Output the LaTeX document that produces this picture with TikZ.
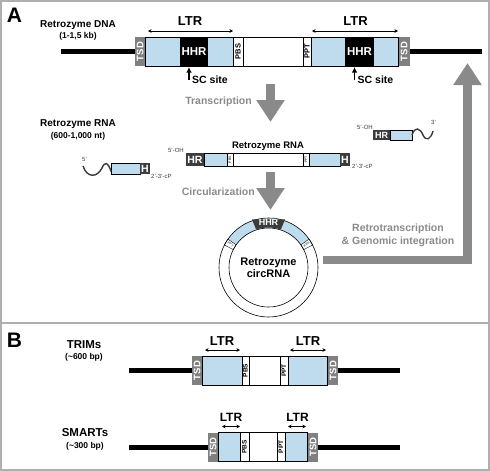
\documentclass[tikz,border=0pt]{standalone}
\usepackage{fontspec}
\setmainfont{Liberation Sans}
\usetikzlibrary{positioning,arrows.meta,calc}

\definecolor{ltrblue}{RGB}{190,220,238}
\definecolor{tsdgray}{RGB}{128,128,128}
\definecolor{hrgray}{RGB}{60,60,60}
\definecolor{arrgray}{RGB}{138,138,138}
\definecolor{framegray}{RGB}{175,175,175}
\newcommand{\fsz}[1]{\fontsize{#1}{#1}\selectfont}

\begin{document}
\begin{tikzpicture}[x=1pt,y=-1pt,
		box/.style={draw,line width=0.6pt,inner sep=0pt,outer sep=0pt},
		ltrbox/.style={box,fill=ltrblue},
		vbox/.style={box,fill=white,rotate=90,font=\bfseries\fsz{7.5}},
		tsdbox/.style={fill=tsdgray,text=white,rotate=90,inner sep=0pt,outer sep=0pt,minimum width=29pt,font=\bfseries\fsz{9.5}},
		hhrbox/.style={fill=black,text=white,inner sep=0pt,outer sep=0pt,minimum height=29pt,font=\bfseries\fsz{11.5}},
		hrbox/.style={fill=hrgray,text=white,inner sep=0pt,outer sep=0pt,font=\bfseries\fsz{10.5}},
		dna/.style={line width=5pt},
		wave/.style={draw=hrgray,line width=1.4pt},
		ltrspan/.style={{Stealth[length=3.5pt,width=3.5pt]}-{Stealth[length=3.5pt,width=3.5pt]},line width=0.5pt},
		ltrlab/.style={inner sep=0pt,font=\bfseries\fsz{13}},
		sclab/.style={inner sep=0pt,anchor=west,font=\bfseries\fsz{10.5}},
		scarrow/.style={line width=1.8pt,-{Latex[length=5.5pt,width=5.5pt]}},
		bigarrow/.style={draw=arrgray,line width=8.5pt,line join=miter,-{Triangle[length=22pt,width=27pt]}},
		steplab/.style={inner sep=0pt,text=arrgray,align=center,font=\bfseries\fsz{10.5}},
		namelab/.style={inner sep=0pt,font=\bfseries\fsz{10}},
		sizelab/.style={inner sep=0pt,font=\bfseries\fsz{8.5}},
		endlab/.style={inner sep=0pt,text=hrgray,font=\fsz{6}},
		panel/.style={inner sep=0pt,font=\bfseries\fsz{21}}]

	\useasboundingbox (0,0) rectangle (490,471);
	\draw[framegray,line width=2pt] (1,1) rectangle (489,470);
	\draw[framegray,line width=1.5pt] (1,323) -- (489,323);

	% panel A: retrozyme DNA
	\node[panel] (labA) at (14.5,15.5) {A};
	\node[namelab] (dnaName) at (78,25) {Retrozyme DNA};
	\node[sizelab] (dnaSize) at (78,36) {(1-1,5 kb)};

	\node[tsdbox,minimum height=10pt] (tsdDa) at (140,51.5) {TSD};
	\node[ltrbox,minimum width=88pt,minimum height=29pt] (ltrDa) at (189,51.5) {};
	\node[hhrbox,minimum width=28pt] (hhrDa) at (194,51.5) {HHR};
	\node[vbox,minimum width=29pt,minimum height=10pt] (pbsD) at (238,51.5) {PBS};
	\node[box,minimum width=60pt,minimum height=29pt] (midD) at (273,51.5) {};
	\node[vbox,minimum width=29pt,minimum height=8pt] (pptD) at (307,51.5) {PPT};
	\node[ltrbox,minimum width=87pt,minimum height=29pt] (ltrDb) at (354.5,51.5) {};
	\node[hhrbox,minimum width=29pt] (hhrDb) at (359.5,51.5) {HHR};
	\node[tsdbox,minimum height=11pt] (tsdDb) at (404,51.5) {TSD};
	\coordinate (dnaA0) at (61,51.5);
	\coordinate (dnaA1) at (482,51.5);
	\draw[dna] (dnaA0) -- (tsdDa);
	\draw[dna] (tsdDb) -- (dnaA1);

	\draw[ltrspan] ($(ltrDa.north west)+(3,-6)$) -- ($(ltrDa.north east)+(0,-6)$);
	\node[ltrlab] (ltrLabA) at ($(ltrDa.north)+(1,-16)$) {LTR};
	\draw[ltrspan] ($(ltrDb.north west)+(1,-6)$) -- ($(ltrDb.north east)+(0,-6)$);
	\node[ltrlab] (ltrLabB) at ($(ltrDb.north)+(1,-16)$) {LTR};

	\draw[scarrow] ($(hhrDa.south)+(-5,14)$) -- ($(hhrDa.south)+(-5,1)$);
	\node[sclab] (scA) at ($(hhrDa.south)+(-2,14)$) {SC site};
	\draw[scarrow] ($(hhrDb.south)+(-5,14)$) -- ($(hhrDb.south)+(-5,1)$);
	\node[sclab] (scB) at ($(hhrDb.south)+(-2,14)$) {SC site};

	% transcription
	\coordinate (trTop) at (270.5,84);
	\coordinate (trBot) at (270.5,122);
	\draw[bigarrow] (trTop) -- (trBot);
	\node[steplab,anchor=east] (trLab) at (252,102) {Transcription};

	% retrozyme RNA
	\node[namelab] (rnaName) at (78,124) {Retrozyme RNA};
	\node[sizelab] (rnaSize) at (78,136) {(600-1,000 nt)};

	\node[namelab,font=\bfseries\fsz{9.5}] (rnaMid) at (268,146) {Retrozyme RNA};
	\node[hrbox,minimum width=18pt,minimum height=13pt] (hrR) at (195,159.5) {HR};
	\node[ltrbox,minimum width=23pt,minimum height=13pt] (ltrRa) at (215.5,159.5) {};
	\node[vbox,minimum width=13pt,minimum height=6pt,font=\fsz{3.5}] (pbsR) at (230,159.5) {PBS};
	\node[box,minimum width=70pt,minimum height=13pt] (midR) at (268,159.5) {};
	\node[vbox,minimum width=13pt,minimum height=6pt,font=\fsz{3.5}] (pptR) at (306,159.5) {PPT};
	\node[ltrbox,minimum width=31pt,minimum height=13pt] (ltrRb) at (324.5,159.5) {};
	\node[hrbox,minimum width=10pt,minimum height=13pt] (hR) at (345,159.5) {H};
	\node[endlab,anchor=east] (ohR) at (184,150.5) {5'-OH};
	\node[endlab,anchor=west] (cpR) at (352,166.5) {2'-3'-cP};

	% released fragments
	\node[ltrbox,minimum width=29pt,minimum height=11pt] (fragLa) at (125.5,168.5) {};
	\node[hrbox,minimum width=10pt,minimum height=11pt] (fragLh) at (145,168.5) {H};
	\coordinate (waveL) at (83,166);
	\draw[wave] (waveL) .. controls (87,178) and (97,178) .. (102,168) .. controls (105,161) and (108,162) .. ($(fragLa.west)+(0,3)$);
	\node[endlab] (fivL) at (84.5,159.5) {5'};
	\node[endlab,anchor=west] (cpL) at (151,176) {2'-3'-cP};

	\node[hrbox,minimum width=17pt,minimum height=10pt,font=\bfseries\fsz{9}] (fragRh) at (381.5,135) {HR};
	\node[ltrbox,minimum width=22pt,minimum height=10pt] (fragRa) at (401,135) {};
	\coordinate (waveR) at (433,131);
	\draw[wave] (fragRa.east) .. controls (415,126) and (420,128) .. (423,135) .. controls (426,142) and (431,139) .. (waveR);
	\node[endlab,anchor=east] (ohL) at (373,127.5) {5'-OH};
	\node[endlab] (thrR) at (433.5,122.5) {3'};

	% circularization
	\coordinate (ciTop) at (270.5,172);
	\coordinate (ciBot) at (270.5,210);
	\draw[bigarrow] (ciTop) -- (ciBot);
	\node[steplab,anchor=east] (ciLab) at (255,192) {Circularization};

	% circRNA
	\coordinate (cc) at (268.5,267.5);
	\fill[ltrblue] ($(cc)+(35:39.5pt)$) arc[start angle=35,end angle=145,radius=39.5pt] -- ($(cc)+(145:49.5pt)$) arc[start angle=145,end angle=35,radius=49.5pt] -- cycle;
	\draw[line width=0.4pt,fill=white] ($(cc)+(145:39.5pt)$) arc[start angle=145,end angle=153,radius=39.5pt] -- ($(cc)+(153:49.5pt)$) arc[start angle=153,end angle=145,radius=49.5pt] -- cycle;
	\draw[line width=0.4pt,fill=white] ($(cc)+(27:39.5pt)$) arc[start angle=27,end angle=35,radius=39.5pt] -- ($(cc)+(35:49.5pt)$) arc[start angle=35,end angle=27,radius=49.5pt] -- cycle;
	\node[rotate=-31,inner sep=0pt,font=\fsz{3}] (pptRing) at ($(cc)+(149:44.5pt)$) {PPT};
	\node[rotate=31,inner sep=0pt,font=\fsz{3}] (pbsRing) at ($(cc)+(31:44.5pt)$) {PBS};
	\node[circle,draw,line width=0.6pt,minimum size=99pt,inner sep=0pt] (circOut) at (cc) {};
	\node[circle,draw,line width=0.6pt,minimum size=79pt,inner sep=0pt,align=center,font=\bfseries\fsz{11}] (circIn) at (cc) {Retrozyme\\[1pt]circRNA};
	\fill[hrgray] ($(cc)+(72:40pt)$) arc[start angle=72,end angle=108,radius=40pt] -- ($(cc)+(109:51pt)$) -- ($(cc)+(71:51pt)$) -- cycle;
	\node[inner sep=0pt,text=white,font=\bfseries\fsz{9}] (hhrRing) at ($(cc)+(90:45.5pt)$) {HHR};

	% retrotranscription
	\coordinate (rtStart) at (323,260);
	\coordinate (rtEnd) at (467.5,63);
	\draw[bigarrow] (rtStart) -| (rtEnd);
	\node[steplab] (rtLab) at (398,235.5) {Retrotranscription\\[2pt]\& Genomic integration};

	% panel B: TRIMs
	\node[panel] (labB) at (14.5,340.5) {B};
	\node[namelab,font=\bfseries\fsz{11.5}] (trimName) at (84,345) {TRIMs};
	\node[sizelab] (trimSize) at (84,357) {(\textasciitilde600 bp)};

	\node[tsdbox,minimum height=10pt] (tsdTa) at (197,370.5) {TSD};
	\node[ltrbox,minimum width=40pt,minimum height=29pt] (ltrTa) at (222,370.5) {};
	\node[vbox,minimum width=29pt,minimum height=7pt,font=\bfseries\fsz{6.5}] (pbsT) at (245.5,370.5) {PBS};
	\node[box,minimum width=31pt,minimum height=29pt] (midT) at (264.5,370.5) {};
	\node[vbox,minimum width=29pt,minimum height=8pt,font=\bfseries\fsz{6.5}] (pptT) at (284,370.5) {PPT};
	\node[ltrbox,minimum width=39pt,minimum height=29pt] (ltrTb) at (307.5,370.5) {};
	\node[tsdbox,minimum height=10pt] (tsdTb) at (333,370.5) {TSD};
	\coordinate (trimA0) at (129,370.5);
	\coordinate (trimA1) at (400,370.5);
	\draw[dna] (trimA0) -- (tsdTa);
	\draw[dna] (tsdTb) -- (trimA1);
	\draw[ltrspan] ($(ltrTa.north west)+(3,-6)$) -- ($(ltrTa.north east)+(-2,-6)$);
	\node[ltrlab] (ltrLabC) at ($(ltrTa.north)+(0,-14.5)$) {LTR};
	\draw[ltrspan] ($(ltrTb.north west)+(2,-6)$) -- ($(ltrTb.north east)+(-1,-6)$);
	\node[ltrlab] (ltrLabD) at ($(ltrTb.north)+(0.5,-14.5)$) {LTR};

	% panel B: SMARTs
	\node[namelab,font=\bfseries\fsz{11.5}] (smartName) at (85,433) {SMARTs};
	\node[sizelab] (smartSize) at (85,446) {(\textasciitilde300 bp)};

	\node[tsdbox,minimum height=10pt] (tsdSa) at (213,447) {TSD};
	\node[ltrbox,minimum width=22pt,minimum height=29pt] (ltrSa) at (229,447) {};
	\node[vbox,minimum width=29pt,minimum height=9pt,font=\bfseries\fsz{6.5}] (pbsS) at (244.5,447) {PBS};
	\node[box,minimum width=28pt,minimum height=29pt] (midS) at (263,447) {};
	\node[vbox,minimum width=29pt,minimum height=8pt,font=\bfseries\fsz{6.5}] (pptS) at (281,447) {PPT};
	\node[ltrbox,minimum width=22pt,minimum height=29pt] (ltrSb) at (296,447) {};
	\node[tsdbox,minimum height=10pt] (tsdSb) at (313,447) {TSD};
	\coordinate (smartA0) at (129,447);
	\coordinate (smartA1) at (400,447);
	\draw[dna] (smartA0) -- (tsdSa);
	\draw[dna] (tsdSb) -- (smartA1);
	\draw[ltrspan] ($(ltrSa.north west)+(4,-6)$) -- ($(ltrSa.north east)+(0,-6)$);
	\node[ltrlab,font=\bfseries\fsz{12}] (ltrLabE) at ($(ltrSa.north)+(2,-15)$) {LTR};
	\draw[ltrspan] ($(ltrSb.north west)+(3,-6)$) -- ($(ltrSb.north east)+(-1,-6)$);
	\node[ltrlab,font=\bfseries\fsz{12}] (ltrLabF) at ($(ltrSb.north)+(1.5,-15)$) {LTR};
\end{tikzpicture}
\end{document}
